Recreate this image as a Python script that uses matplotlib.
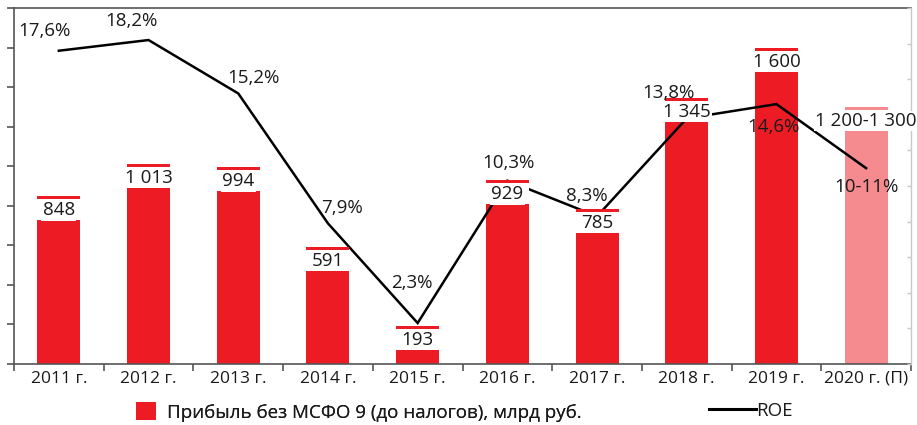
import matplotlib
matplotlib.use("Agg")
import matplotlib.pyplot as plt
from matplotlib.patches import Rectangle
from matplotlib.lines import Line2D
from matplotlib.patches import Patch

plt.rcParams['font.family'] = ['Open Sans', 'DejaVu Sans']

years = ["2011 г.", "2012 г.", "2013 г.", "2014 г.", "2015 г.",
         "2016 г.", "2017 г.", "2018 г.", "2019 г.", "2020 г. (П)"]
profit = [848, 1013, 994, 591, 193, 929, 785, 1345, 1600, 1300]
profit_labels = ["848", "1 013", "994", "591", "193", "929", "785",
                 "1 345", "1 600", "1 200-1 300"]
roe = [17.6, 18.2, 15.2, 7.9, 2.3, 10.3, 8.3, 13.8, 14.6, 11.0]
roe_labels = ["17,6%", "18,2%", "15,2%", "7,9%", "2,3%", "10,3%", "8,3%",
              "13,8%", "14,6%", "10-11%"]

# label offsets from the line points, in pixels
roe_offsets = [(-14, 20), (-17, 19), (15, 15), (14, 15), (-6, 40),
               (1, 18), (-10, 20), (-18, 25), (-3, -23), (0, -19)]

RED = "#ED1C24"
PINK = "#F58A8F"
bar_colors = [RED] * 9 + [PINK]
TXT = "#1a1a1a"

fig = plt.figure(figsize=(9.17, 4.25), dpi=100)
ax = fig.add_axes([14 / 917, 1 - 364 / 425, 897 / 917, 356 / 425])
ax2 = ax.twinx()

x = list(range(len(years)))
width = 0.48
ax.bar(x, profit, width=width, color=bar_colors, zorder=1)
ax.set_xlim(-0.5, 9.5)
ax.set_ylim(0, 1800)
ax2.set_ylim(0, 20)

ax2.plot(x, roe, color="black", lw=1.8, zorder=2, solid_joinstyle="miter")

# value boxes on top of bars (above the ROE line)
px = 1800 / 356  # data units per pixel
for xi, val, lab, col in zip(x, profit, profit_labels, bar_colors):
    ax2.add_patch(Rectangle((xi - width / 2, val - 3 * px), width, 3 * px,
                            transform=ax.transData, color=col, lw=0, zorder=3))
    ax2.add_patch(Rectangle((xi - width / 2, val - 24 * px), width, 21 * px,
                            transform=ax.transData, color="white", lw=0, zorder=3))
    ax2.text(xi, val - 14 * px, lab, transform=ax.transData, ha="center",
             va="center", fontsize=13.5, color=TXT, zorder=4, clip_on=False,
             bbox=dict(facecolor="white", edgecolor="none", pad=1.0))

for xi, r, lab, (dx, dy) in zip(x, roe, roe_labels, roe_offsets):
    ax2.annotate(lab, (xi, r), xytext=(dx, dy), textcoords="offset pixels",
                 ha="center", va="center", fontsize=13.5, color=TXT,
                 zorder=5, annotation_clip=False)

# axes styling
for s in ["left", "bottom", "top"]:
    ax.spines[s].set_color("#555555")
    ax.spines[s].set_linewidth(1.2)
ax.spines["right"].set_visible(False)
for s in ["left", "bottom", "top"]:
    ax2.spines[s].set_visible(False)
ax2.spines["right"].set_color("#c8c8c8")
ax2.spines["right"].set_linewidth(1.0)

ax.set_yticks(range(0, 1801, 200))
ax.set_yticklabels([])
ax.tick_params(axis="y", direction="out", length=5, width=1.2, color="#555555")
ax2.set_yticks(range(0, 21, 2))
ax2.set_yticklabels([])
ax2.tick_params(axis="y", direction="in", length=3, width=1, color="#c8c8c8")

ax.set_xticks(x)
ax.set_xticklabels(years, fontsize=12.5, color=TXT)
ax.set_xticks([i - 0.5 for i in range(11)], minor=True)
ax.tick_params(axis="x", which="major", length=0, pad=5)
ax.tick_params(axis="x", which="minor", direction="out", length=5, width=1.2,
               color="#555555")

# legends below the axes
leg1 = fig.legend([Patch(facecolor=RED, edgecolor="none")],
                  ["Прибыль без МСФО 9 (до налогов), млрд руб."],
                  loc="center left", bbox_to_anchor=(136 / 917, 1 - 412 / 425),
                  frameon=False, fontsize=13.5, handlelength=1.05,
                  handleheight=1.05, handletextpad=0.6,
                  borderpad=0, borderaxespad=0, labelcolor=TXT)
fig.legend([Line2D([0], [0], color="black", lw=2.2)], ["ROE"],
           loc="center left", bbox_to_anchor=(709 / 917, 1 - 411 / 425),
           frameon=False, fontsize=13.5, handlelength=2.5, handletextpad=0.0,
           borderpad=0, borderaxespad=0, labelcolor=TXT)
fig.add_artist(leg1)

fig.savefig("out.png", dpi=100)
